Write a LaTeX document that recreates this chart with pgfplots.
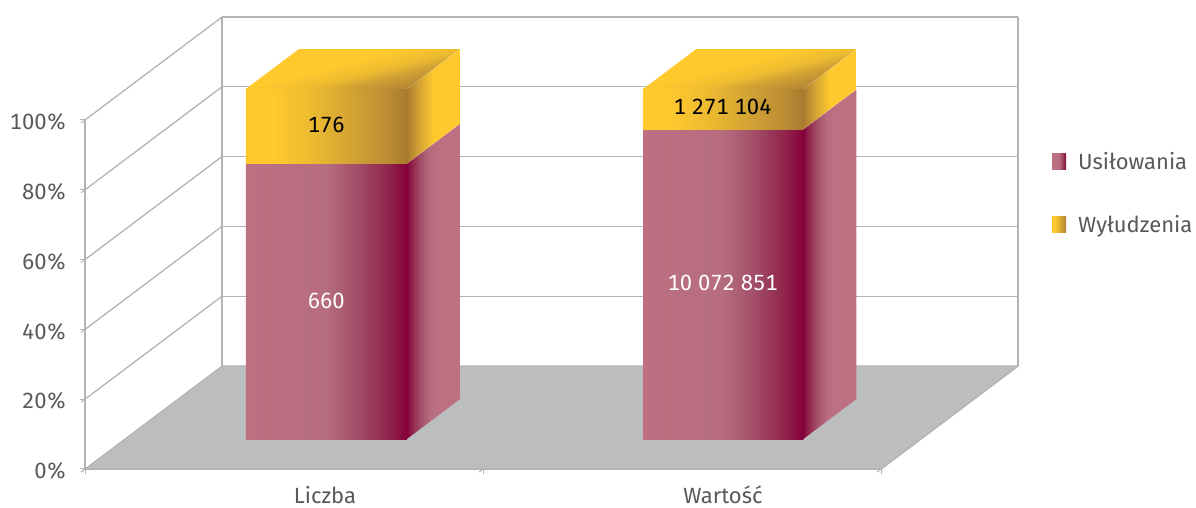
\documentclass[border=0pt]{standalone}
\usepackage{fontspec}
\setmainfont{Fira Sans}[Numbers=Monospaced]
\usepackage{pgfplots}
\pgfplotsset{compat=1.18}
\definecolor{txt}{HTML}{58595B}
\definecolor{gridc}{HTML}{B3B3B5}
\definecolor{floorc}{HTML}{BCBDBF}
\definecolor{pink0}{HTML}{BC7082}
\definecolor{pink1}{HTML}{B66C7F}
\definecolor{pink2}{HTML}{A4506A}
\definecolor{pink3}{HTML}{8E2049}
\definecolor{pink4}{HTML}{84003A}
\definecolor{yel0}{HTML}{FFC92E}
\definecolor{yela}{HTML}{EDBB30}
\definecolor{yel1}{HTML}{CE9F34}
\definecolor{yel2}{HTML}{B88A33}
\definecolor{yel3}{HTML}{A97B2F}
\pgfdeclarehorizontalshading{pinkfront}{100bp}{color(0bp)=(pink0);color(25bp)=(pink0);color(50bp)=(pink1);color(59bp)=(pink2);color(70bp)=(pink3);color(75bp)=(pink4);color(100bp)=(pink4)}
\pgfdeclarehorizontalshading{pinkside}{100bp}{color(0bp)=(pink4);color(25bp)=(pink4);color(29bp)=(pink3);color(38bp)=(pink2);color(47bp)=(pink1);color(55bp)=(pink0);color(100bp)=(pink0)}
\pgfdeclarehorizontalshading{yelfront}{100bp}{color(0bp)=(yel0);color(25bp)=(yel0);color(33bp)=(yel0);color(45bp)=(yela);color(60bp)=(yel1);color(70bp)=(yel2);color(75bp)=(yel3);color(100bp)=(yel3)}
\pgfdeclarehorizontalshading{yelside}{100bp}{color(0bp)=(yel3);color(25bp)=(yel3);color(35bp)=(yel1);color(50bp)=(yel0);color(100bp)=(yel0)}
\pgfdeclarehorizontalshading{yeltop}{100bp}{color(0bp)=(yel0);color(45bp)=(yel0);color(55bp)=(yela);color(62bp)=(yel1);color(70bp)=(yel2);color(75bp)=(yel3);color(100bp)=(yel3)}
% one stacked block: x0 x1 z0 z1 front-shading side-shading
\newcommand{\block}[6]{%
  \addplot3[draw=none,shading=#5,forget plot] coordinates {(#1,0.291,#3) (#2,0.291,#3) (#2,0.291,#4) (#1,0.291,#4)} --cycle;
  \addplot3[draw=none,shading=#6,forget plot] coordinates {(#2,0.291,#3) (#2,0.678,#3) (#2,0.678,#4) (#2,0.291,#4)} --cycle;
  \addplot3[white,opacity=0.5,line width=0.6pt,forget plot] coordinates {(#2,0.291,#4) (#2,0.678,#4)};
}
\newcommand{\blocktop}[3]{%
  \addplot3[draw=none,shading=yeltop,shading angle=-75.8,forget plot] coordinates {(#1,0.291,#3) (#2,0.291,#3) (#2,0.678,#3) (#1,0.678,#3)} --cycle;
}
\newcommand{\gline}[6]{\addplot3[gridc,line width=1.3pt,forget plot] coordinates {(#1,#2,#3) (#4,#5,#6)};}
\newcommand{\vfont}{\fontsize{22}{26}\selectfont}
\begin{document}
\begin{tikzpicture}
\path[use as bounding box] (0,0) rectangle (1196pt,508pt);
\begin{axis}[
  at={(85pt,39pt)},anchor=origin,
  x={(398pt,0pt)},y={(137pt,103pt)},z={(0pt,3.49pt)},
  xmin=0,xmax=2,ymin=0,ymax=1,zmin=0,zmax=100,
  clip=false,
  axis lines=left,
  axis line style={gridc,line width=1.5pt,-},
  xtick={0.5,1.5},xticklabels={Liczba,Warto\'s\'c},
  minor xtick={0,1,2},
  ytick=\empty,
  ztick={0,20,40,60,80,100},
  zticklabel={\pgfmathprintnumber{\tick}\%},
  /pgf/number format/assume math mode=true,
  tick style={gridc,line width=1pt},
  major x tick style={draw=none},
  tick align=outside,
  major tick length=5pt,minor tick length=5pt,
  tick label style={font=\vfont,text=txt},
  xticklabel style={anchor=center,inner sep=0pt,xshift=45pt,yshift=-23pt},
  zticklabel style={anchor=east,xshift=-11pt,yshift=1pt},
  legend style={at={(1.033,0.710)},anchor=north west,draw=none,fill=none,
     font=\vfont,text=txt,row sep=40pt,legend cell align=left},
]
% floor
\addplot3[fill=floorc,draw=gridc,line width=1pt,forget plot] coordinates {(0,0,0) (2,0,0) (2,1,0) (0,1,0)} --cycle;
% walls and grid
\gline{0}{1}{0}{0}{1}{100}
\gline{2}{1}{0}{2}{1}{100}
\gline{0}{0}{0}{0}{0}{100}
\gline{0}{0}{0}{2}{0}{0}
\gline{0}{0}{20}{0}{1}{20}
\gline{0}{0}{40}{0}{1}{40}
\gline{0}{0}{60}{0}{1}{60}
\gline{0}{0}{80}{0}{1}{80}
\gline{0}{0}{100}{0}{1}{100}
\gline{0}{1}{20}{2}{1}{20}
\gline{0}{1}{40}{2}{1}{40}
\gline{0}{1}{60}{2}{1}{60}
\gline{0}{1}{80}{2}{1}{80}
\gline{0}{1}{100}{2}{1}{100}
% bars
\block{0.304}{0.7085}{0}{78.95}{pinkfront}{pinkside}
\block{0.304}{0.7085}{78.95}{100.3}{yelfront}{yelside}
\blocktop{0.304}{0.7085}{100.3}
\block{1.3025}{1.7045}{0}{88.79}{pinkfront}{pinkside}
\block{1.3025}{1.7045}{88.79}{100.3}{yelfront}{yelside}
\blocktop{1.3025}{1.7045}{100.3}
% legend
\addlegendimage{legend image code/.code={\shade[shading=pinkfront,draw=none] (0pt,-8pt) rectangle (14pt,8pt);\path (24pt,0pt);}}
\addlegendentry{Usi\l{}owania}
\addlegendimage{legend image code/.code={\shade[shading=yelfront,draw=none] (0pt,-8pt) rectangle (14pt,8pt);\path (24pt,0pt);}}
\addlegendentry{Wy\l{}udzenia}
% value labels
\node[font=\vfont,text=white] at (axis cs:0.506,0.291,39.5) {660};
\node[font=\vfont,text=black] at (axis cs:0.506,0.291,89.9) {176};
\node[font=\vfont,text=white] at (axis cs:1.502,0.291,44.7) {10 072 851};
\node[font=\vfont,text=black] at (axis cs:1.502,0.291,95.2) {1 271 104};
\end{axis}
\end{tikzpicture}
\end{document}
